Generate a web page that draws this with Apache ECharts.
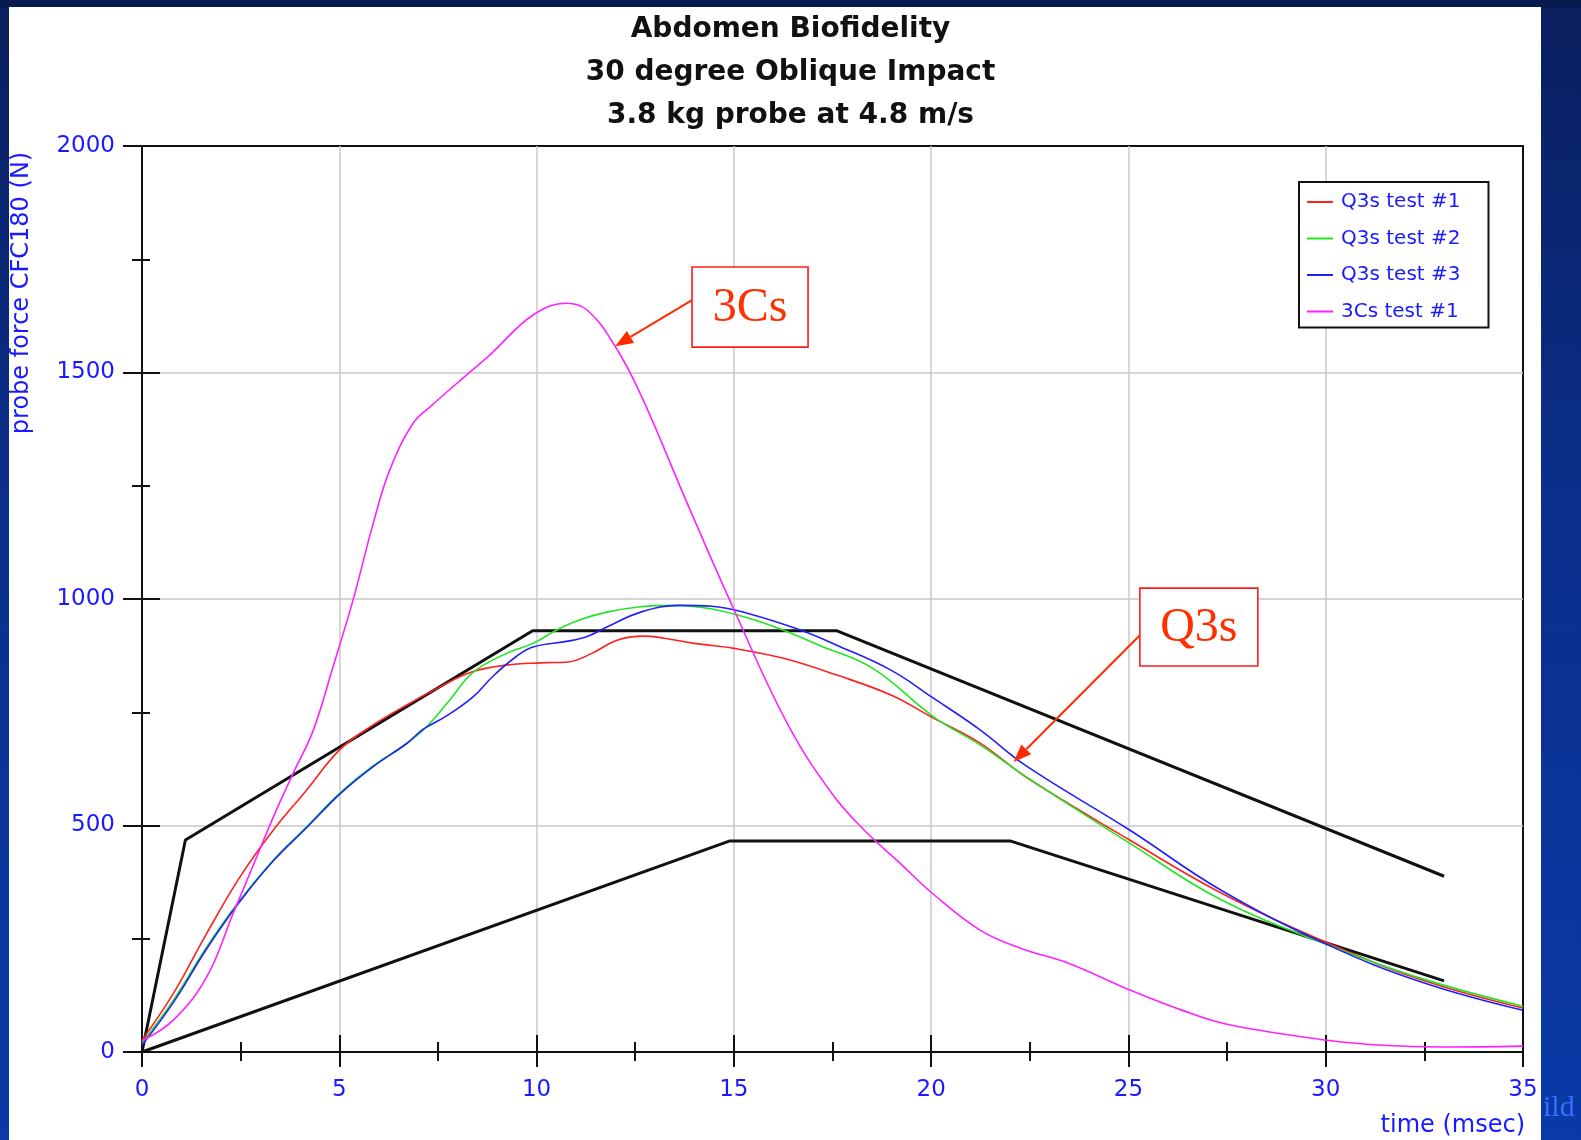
<!DOCTYPE html>
<html><head><meta charset="utf-8">
<script src="https://cdn.jsdelivr.net/npm/echarts@6/dist/echarts.min.js"></script>
<style>
html,body{margin:0;padding:0;width:1581px;height:1140px;overflow:hidden;}
body{background:linear-gradient(180deg,#0a1f5e 0%,#0b2f8c 45%,#0a3aa8 100%);position:relative;}
#topstrip{position:absolute;left:0;top:0;width:1581px;height:7px;background:#081a4e;}
#panel{position:absolute;left:9px;top:7px;width:1532px;height:1133px;background:#fff;}
#chart{position:absolute;left:0;top:0;width:1581px;height:1140px;}
</style></head>
<body>
<div id="topstrip"></div>
<div id="panel"></div>
<div id="chart"></div>
<script>
// ---- data ----
const seriesNames = ['Q3s test #1', 'Q3s test #2', 'Q3s test #3', '3Cs test #1'];
const q3sTest1 = [[0,26],[0.8,130],[1.64,262],[2.48,386],[3.33,490],[4.17,578],[5.02,668],[5.86,722],[6.71,766],[7.55,806],[8.39,840],[9.24,854],[10.09,859],[10.8,861],[11.4,880],[12.04,909],[12.7,918],[13.2,914],[14.0,902],[15.0,891],[16.26,869],[17.61,832],[18.98,788],[20.06,737],[21.24,682],[22.4,607],[25.03,468],[27.35,351],[30.04,241],[32.44,159],[35,97]];
const q3sTest2 = [[0,20],[0.8,115],[1.64,232],[2.48,335],[3.33,424],[4.17,497],[5.02,572],[5.86,632],[6.71,681],[7.2,717],[7.8,777],[8.39,838],[9.24,880],[9.91,902],[10.5,931],[11.1,954],[11.78,971],[12.64,983],[13.53,986],[14.44,978],[15.36,958],[16.26,931],[17.16,898],[18.52,847],[20.06,740],[21.24,678],[22.4,608],[25.03,461],[27.35,336],[30.04,237],[32.44,162],[35,101]];
const q3sTest3 = [[0,15],[0.8,110],[1.64,228],[2.48,332],[3.33,422],[4.17,495],[5.02,570],[5.86,630],[6.71,681],[7.12,712],[7.72,742],[8.39,784],[8.9,830],[9.47,872],[9.91,894],[10.8,907],[11.3,918],[11.78,938],[12.64,971],[13.64,986],[14.44,984],[15.36,968],[16.7,931],[17.61,898],[18.98,843],[20.06,781],[21.24,711],[22.4,632],[25.03,490],[27.35,357],[30.04,237],[32.44,154],[35,92]];
const c3sTest1 = [[0,25],[0.8,71],[1.64,166],[2.31,306],[2.91,431],[3.33,519],[3.83,615],[4.34,710],[4.84,850],[5.35,998],[5.86,1167],[6.28,1285],[6.87,1388],[7.3,1424],[8.31,1501],[8.82,1539],[9.91,1627],[10.77,1653],[11.28,1638],[11.94,1565],[12.62,1455],[13.8,1215],[14.99,979],[16.35,726],[17.49,570],[18.3,490],[19.21,417],[20.02,351],[21.24,269],[22.26,229],[23.48,196],[25.03,137],[26.33,93],[27.56,60],[30.04,26],[31.43,15],[32.95,11],[35,13]];
const corridorUpper = [[0,0],[1.1,468],[9.9,930],[17.6,930],[33,388]];
const corridorLower = [[0,0],[14.9,466],[22,466],[33,157]];
const xRange = [0, 35, 5];
const yRange = [0, 2000, 500];
const titleLines = ['Abdomen Biofidelity', '30 degree Oblique Impact', '3.8 kg probe at 4.8 m/s'];
const xName = 'time (msec)';
const yName = 'probe force CFC180 (N)';
const annotations = [
  {text: '3Cs', box: [13.94, 1733, 16.88, 1556], from: [13.94, 1660], to: [11.99, 1558]},
  {text: 'Q3s', box: [25.29, 1024, 28.28, 852], from: [25.29, 920], to: [22.09, 640]}
];

// ---- styles ----
const colors = ['#ff2020', '#22e622', '#2020ff', '#ff22ff'];
const blue = '#1a1aff';
const font = 'DejaVu Sans';

function mkX(inside) {
  return {
    type: 'value', position: 'bottom', min: xRange[0], max: xRange[1], interval: xRange[2],
    axisLine: {show: !inside, onZero: false, lineStyle: {color: '#111', width: 2}},
    axisTick: {show: true, inside: inside, length: inside ? 17 : 15, lineStyle: {color: '#111', width: 2}},
    minorTick: {show: true, splitNumber: 2, length: inside ? 10 : 9, lineStyle: {color: '#111', width: 2}},
    axisLabel: {show: !inside, margin: 27, color: blue, fontFamily: font, fontSize: 23, formatter: v => String(v)},
    splitLine: {show: !inside, showMinLine: false, showMaxLine: false, lineStyle: {color: '#c8c8c8', width: 1.5}}
  };
}
function mkY(inside) {
  return {
    type: 'value', position: 'left', min: yRange[0], max: yRange[1], interval: yRange[2],
    axisLine: {show: !inside, onZero: false, lineStyle: {color: '#111', width: 2}},
    axisTick: {show: true, inside: inside, length: inside ? 18 : 19, lineStyle: {color: '#111', width: 2}},
    minorTick: {show: true, splitNumber: 2, length: inside ? 8 : 10, lineStyle: {color: '#111', width: 2}},
    axisLabel: {show: !inside, margin: 27, color: blue, fontFamily: font, fontSize: 23, formatter: v => String(v)},
    splitLine: {show: !inside, showMinLine: false, showMaxLine: false, lineStyle: {color: '#c8c8c8', width: 1.5}}
  };
}

const testData = [q3sTest1, q3sTest2, q3sTest3, c3sTest1];
const series = [
  {name: 'corridor upper', type: 'line', data: corridorUpper, showSymbol: false, symbol: 'none', silent: true,
   lineStyle: {color: '#111', width: 3}, z: 2},
  {name: 'corridor lower', type: 'line', data: corridorLower, showSymbol: false, symbol: 'none', silent: true,
   lineStyle: {color: '#111', width: 3}, z: 2}
];
testData.forEach((d, i) => {
  series.push({name: seriesNames[i], type: 'line', data: d, symbol: 'none', smooth: 0.4,
    lineStyle: {color: colors[i], width: 1.6}, itemStyle: {color: colors[i]}, z: 3});
});

const chart = echarts.init(document.getElementById('chart'), null, {renderer: 'canvas'});
chart.setOption({
  backgroundColor: 'transparent',
  animation: false,
  title: {
    text: titleLines.join('\n'), left: 'center', top: 3,
    textStyle: {fontFamily: font, fontWeight: 'bold', fontSize: 28, lineHeight: 43, color: '#111'}
  },
  grid: {left: 142, right: 58, top: 146, bottom: 88, show: true, borderColor: '#111', borderWidth: 2, backgroundColor: 'transparent'},
  xAxis: [mkX(false), mkX(true)],
  yAxis: [mkY(false), mkY(true)],
  legend: {
    data: seriesNames, orient: 'vertical', left: 1299, top: 182,
    padding: [10, 28, 6, 8], itemGap: 16.5, itemWidth: 26, itemHeight: 2, icon: 'rect',
    borderColor: '#111', borderWidth: 2, backgroundColor: '#fff',
    textStyle: {color: blue, fontFamily: font, fontSize: 20, lineHeight: 20, padding: [0, 0, 0, 3]}
  },
  series: series
});

// ---- annotations & axis names ----
const g = [];
g.push({type: 'text', x: 22, y: 293, rotation: Math.PI / 2,
  style: {text: yName, textAlign: 'center', textVerticalAlign: 'middle', fill: blue, font: '24px "DejaVu Sans"'}});
g.push({type: 'text', x: 1525, y: 1126,
  style: {text: xName, textAlign: 'right', textVerticalAlign: 'middle', fill: blue, font: '24px "DejaVu Sans"'}});
g.push({type: 'text', x: 1543, y: 1108,
  style: {text: 'ild', textAlign: 'left', textVerticalAlign: 'middle', fill: '#3a6cff', font: '30px "Liberation Serif"'}});
annotations.forEach(a => {
  const p0 = chart.convertToPixel({gridIndex: 0}, [a.box[0], a.box[1]]);
  const p1 = chart.convertToPixel({gridIndex: 0}, [a.box[2], a.box[3]]);
  const f = chart.convertToPixel({gridIndex: 0}, a.from);
  const t = chart.convertToPixel({gridIndex: 0}, a.to);
  g.push({type: 'rect', shape: {x: p0[0], y: p0[1], width: p1[0] - p0[0], height: p1[1] - p0[1]},
    style: {fill: '#fff', stroke: '#ff1a1a', lineWidth: 1.6}, z: 100});
  g.push({type: 'text', x: (p0[0] + p1[0]) / 2, y: (p0[1] + p1[1]) / 2 + 1,
    style: {text: a.text, textAlign: 'center', textVerticalAlign: 'middle', fill: '#ff3000', font: '48px "Liberation Serif"'}, z: 101});
  const dx = t[0] - f[0], dy = t[1] - f[1], len = Math.hypot(dx, dy);
  const ux = dx / len, uy = dy / len, L = 18, W = 7;
  const bx = t[0] - ux * L, by = t[1] - uy * L;
  g.push({type: 'line', shape: {x1: f[0], y1: f[1], x2: bx, y2: by}, style: {stroke: '#ff2a00', lineWidth: 2}, z: 100});
  g.push({type: 'polygon', shape: {points: [[t[0], t[1]], [bx - uy * W, by + ux * W], [bx + uy * W, by - ux * W]]},
    style: {fill: '#ff2a00'}, z: 100});
});
chart.setOption({graphic: g});
</script>
</body></html>
